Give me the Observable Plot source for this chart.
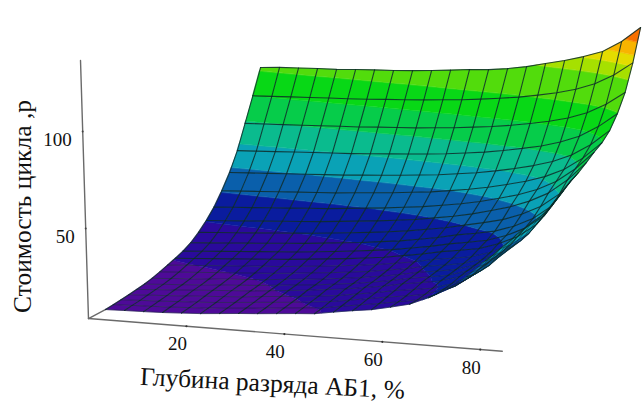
<!DOCTYPE html>
<html><head><meta charset="utf-8">
<script src="https://cdn.jsdelivr.net/npm/d3@7"></script>
<script src="https://cdn.jsdelivr.net/npm/@observablehq/plot@0.6"></script>
<style>html,body{margin:0;padding:0;background:#fff}svg{display:block}</style>
</head><body><div id="chart"></div>
<script>
const depth = [3.5,7.38,11.26,15.14,19.02,22.9,26.78,30.66,34.54,38.42,42.3,46.18,50.06,53.94,57.82,61.7,65.58,69.46,73.34,77.22,81.1];
// cost of a cycle: one row per AB2 depth (front to back), one value per AB1 depth
const cost = [
[9,9.3,9.5,9.8,10.3,10.8,11.6,12.4,13.1,13.9,14.7,15.4,17,18.5,19.8,21.9,24.2,28.3,33.7,40.7,49.7],
[9.4,9.8,10.1,10.5,11,11.5,12.3,13.1,13.8,14.7,15.5,16.3,17.9,19.4,20.9,22.5,24.3,28,33,39.8,50.6],
[9.8,10.3,10.7,11.2,11.7,12.3,13.1,13.9,14.7,15.5,16.5,17.4,18.9,20.5,22.1,23.4,25,28.6,33.3,39.9,52.1],
[10.3,10.9,11.4,12,12.6,13.2,13.9,14.8,15.6,16.4,17.4,18.4,20,21.5,23.3,24.6,26.1,29.2,33.7,40.4,53.1],
[10.9,11.6,12.2,12.9,13.5,14.2,14.8,15.7,16.6,17.5,18.6,19.7,21.2,22.7,24.7,26.1,27.7,30.7,35.1,41.8,54.7],
[11.5,12.2,12.8,13.5,14.2,14.8,15.5,16.4,17.3,18.1,19.3,20.4,21.9,23.5,25.5,26.9,28.5,31.6,36,42.8,55.8],
[12.4,13.1,13.7,14.4,15.1,15.7,16.4,17.3,18.2,19,20.2,21.3,22.8,24.4,26.4,27.8,29.4,32.5,36.9,43.7,56.7],
[13.6,14.3,14.9,15.6,16.2,16.9,17.5,18.4,19.3,20.2,21.3,22.4,23.9,25.4,27.4,28.8,30.4,33.4,37.8,44.5,57.4],
[15,15.7,16.3,17,17.6,18.3,18.9,19.8,20.7,21.6,22.7,23.8,25.3,26.8,28.8,30.2,31.8,34.8,39.2,45.9,58.8],
[16.4,17.1,17.8,18.4,19.1,19.8,20.5,21.4,22.3,23.2,24.3,25.5,27.1,28.7,30.7,32.2,33.9,37.1,41.5,48.5,61.8],
[18,18.7,19.4,20.1,20.8,21.5,22.2,23.1,24,25,26.1,27.3,28.9,30.5,32.6,34.2,36,39.2,43.8,50.9,64.4],
[20.2,20.9,21.6,22.3,23,23.8,24.5,25.4,26.4,27.3,28.5,29.7,31.3,33,35.1,36.7,38.6,41.9,46.6,53.9,67.6],
[23.4,24.1,24.8,25.5,26.2,26.9,27.6,28.5,29.4,30.4,31.5,32.7,34.3,35.9,38,40.1,42.4,45.9,50.7,58,69.8],
[27.4,28.1,28.8,29.4,30.1,30.8,31.5,32.4,33.3,34.2,35.3,36.5,38.1,39.7,41.7,44.2,46.9,50.6,55.5,63,72.8],
[32.2,32.9,33.5,34.2,34.8,35.5,36.1,37,37.9,38.8,39.9,41,42.5,44,46,48.4,51,54.5,59.4,66.6,76],
[38.5,39.1,39.7,40.3,40.9,41.5,42.1,42.9,43.7,44.5,45.5,46.5,47.9,49.4,51.2,53.4,55.8,59,63.4,70.1,78.7],
[45.8,46.4,46.9,47.5,48,48.6,49.1,49.9,50.6,51.4,52.3,53.2,54.5,55.8,57.5,59.5,61.8,64.7,68.8,74.9,82.9],
[55,55.5,56,56.6,57.1,57.6,58.1,58.8,59.5,60.2,61,61.9,63.1,64.3,65.9,67.8,69.8,72.6,76.4,82.1,89.5],
[66.9,67.4,67.8,68.3,68.8,69.3,69.7,70.4,71,71.6,72.4,73.2,74.3,75.4,76.8,78.5,80.4,82.9,86.4,91.5,98.3],
[79,79.5,80,80.5,81,81.4,81.9,82.6,83.2,83.9,84.7,85.5,86.6,87.8,89.2,91,93,95.6,99.2,104.5,111.5],
[91.5,92.3,92.8,93.3,93.6,94.3,94.9,95.4,96.1,96.9,97.9,99,99.7,101,102.8,105.2,107.5,110.3,113.7,119.6,127.6]
];
const thresholds = [16,27,38,48,58,68,79,90,104,110,115,121];
const palette = ["#4e0a98","#2a0a9c","#0a1c9e","#0a5fab","#0aa2b6","#0abb8e","#06cc4a","#08d816","#52dc0c","#a6e000","#e4dc00","#f8b400","#f87000"];
const xTicks = [20,40,60,80];
const zTicks = [50,100];
const zLean = [-0.57,-1.19];
const xTitle = "Глубина разряда АБ1, %";
const zTitle = "Стоимость цикла ,р";

// oblique view of (AB1 depth, AB2 depth, cost) on the plot's two axes
const U = (x,y) => x + 0.408*y;
const V = (x,y,z) => z - 0.2*x + 0.545*y;
const pt = (x,y,z) => ({u:U(x,y), v:V(x,y,z), x, y, z});

function clip(poly, level, keepAbove){
  const out=[];
  for(let k=0;k<poly.length;k++){
    const a=poly[k], b=poly[(k+1)%poly.length];
    const ina = keepAbove ? a.z>=level : a.z<=level;
    const inb = keepAbove ? b.z>=level : b.z<=level;
    if(ina) out.push(a);
    if(ina!==inb){
      const t=(level-a.z)/(b.z-a.z);
      out.push(pt(a.x+t*(b.x-a.x), a.y+t*(b.y-a.y), level));
    }
  }
  return out;
}
const bands = d3.range(palette.length).map(b=>[b===0?-Infinity:thresholds[b-1], b===thresholds.length?Infinity:thresholds[b]]);
const patches=[]; let pid=0;
for(let j=depth.length-2;j>=0;j--){
  for(let i=0;i<depth.length-1;i++){
    const cell=[pt(depth[i],depth[j],cost[j][i]),pt(depth[i+1],depth[j],cost[j][i+1]),pt(depth[i+1],depth[j+1],cost[j+1][i+1]),pt(depth[i],depth[j+1],cost[j+1][i])];
    for(const [lo,hi] of bands){
      let p=cell;
      if(isFinite(lo)) p=clip(p,lo,true);
      if(p.length && isFinite(hi)) p=clip(p,hi,false);
      if(p.length>=3){
        const mid=isFinite(lo)?(isFinite(hi)?(lo+hi)/2:lo+1):hi-1;
        pid++;
        for(const q of p) patches.push({u:q.u,v:q.v,id:pid,mid});
      }
    }
  }
}
const lowRows=[], mesh=[];
depth.forEach((y,j)=>depth.forEach((x,i)=>(j<9?lowRows:mesh).push({...pt(x,y,cost[j][i]),id:"r"+j})));
depth.forEach((x,i)=>depth.forEach((y,j)=>mesh.push({...pt(x,y,cost[j][i]),id:"c"+i})));

const axisY=3.55, axisZ=3.66;
const serif="Liberation Serif, Times New Roman, serif";
const plot = Plot.plot({
  width:642,height:404,margin:0,
  style:{fontFamily:serif,background:"#fff"},
  x:{axis:null,domain:[-16.52,114.58],range:[0,642]},
  y:{axis:null,domain:[-38.73,169.52],range:[404,0]},
  color:{type:"threshold",domain:thresholds,range:palette},
  marks:[
    Plot.line([[0,3.66],[-1.63,136.3]],{x:d=>U(d[0],axisY),y:d=>V(d[0],axisY,d[1]),stroke:"#6a6a6a",strokeWidth:1.4}),
    Plot.line([0,84.5],{x:d=>U(d,axisY),y:d=>V(d,axisY,axisZ),stroke:"#6a6a6a",strokeWidth:1.4}),
    Plot.line([axisY,12.2],{x:d=>U(0,d),y:d=>V(0,d,axisZ),stroke:"#6a6a6a",strokeWidth:1.4}),
    Plot.line(patches,{x:"u",y:"v",z:"id",fill:"mid",stroke:"mid",strokeWidth:0.5,curve:"linear-closed"}),
    Plot.line(lowRows,{x:"u",y:"v",z:"id",stroke:"#0c2a28",strokeWidth:0.7,strokeOpacity:0.7}),
    Plot.line(mesh,{x:"u",y:"v",z:"id",stroke:"#0c2a28",strokeWidth:1.1,strokeOpacity:0.85}),
    Plot.dot(xTicks,{x:d=>U(d,axisY),y:d=>V(d,axisY,axisZ),r:1.1,fill:"#333"}),
    Plot.dot(zTicks,{x:(d,k)=>U(zLean[k],axisY),y:d=>V(0,axisY,d),r:1,fill:"#444"}),
    Plot.text(xTicks,{x:d=>U(d,axisY),y:d=>V(d,axisY,axisZ),text:d=>String(d),dx:-9,dy:18,fontSize:19,fill:"#111"}),
    Plot.text(zTicks,{x:(d,k)=>U(zLean[k],axisY),y:d=>V(0,axisY,d),text:d=>String(d),textAnchor:"end",dx:-11,dy:8,fontSize:19,fill:"#111"}),
    Plot.text([xTitle],{frameAnchor:"top-left",dx:272,dy:383,rotate:3,fontSize:25.5,fill:"#111",textAnchor:"middle",lineAnchor:"middle"}),
    Plot.text([zTitle],{frameAnchor:"top-left",dx:22,dy:206,rotate:-90,fontSize:25.5,fill:"#111",textAnchor:"middle",lineAnchor:"middle"})
  ]
});
document.getElementById("chart").appendChild(plot);
</script></body></html>
